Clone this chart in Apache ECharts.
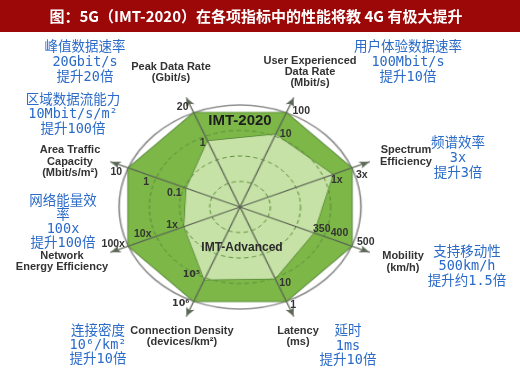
<!DOCTYPE html>
<html><head><meta charset="utf-8">
<script src="https://cdn.jsdelivr.net/npm/echarts@6/dist/echarts.min.js"></script>
<style>
html,body{margin:0;padding:0;background:#fff;overflow:hidden}
#wrap{position:relative;width:520px;height:379px}
#r,#c{position:absolute;left:0;top:0;width:520px;height:379px}
#r{transform-origin:240px 207px;transform:scale(1.12,0.945)}
</style>
</head><body><div id="wrap"><div id="r"></div><div id="c"></div></div>
<script>
// ---- data (indicators listed counter-clockwise, starting at upper right) ----
const indicators = ['User Experienced Data Rate', 'Peak Data Rate', 'Area Traffic Capacity', 'Network Energy Efficiency', 'Connection Density', 'Latency', 'Mobility', 'Spectrum Efficiency'];
const imt2020 = [100, 100, 100, 100, 100, 100, 100, 100];        // relative radius (%)
const imtAdvanced = [77, 70, 48, 50, 77, 76, 66, 83];            // relative radius (%)
const outerTicks = ['100', '20', '10', '100x', '10⁶', '1', '500', '3x'];
const innerTicks = ['10', '1', '0.1', '1x', '10⁵', '10', '350', '1x'];
const midTickValues = [null, null, 84, 87, null, null, 89, null];
const midTicks = ['', '', '1', '10x', '', '', '400', ''];
const titleText = '图：5G（IMT-2020）在各项指标中的性能将教 4G 有极大提升';
const axisNames = [
  'User Experienced\nData Rate\n(Mbit/s)', 'Peak Data Rate\n(Gbit/s)', 'Area Traffic\nCapacity\n(Mbit/s/m²)',
  'Network\nEnergy Efficiency', 'Connection Density\n(devices/km²)', 'Latency\n(ms)', 'Mobility\n(km/h)', 'Spectrum\nEfficiency'
];
const notes = [
  '用户体验数据速率\n100Mbit/s\n提升10倍', '峰值数据速率\n20Gbit/s\n提升20倍', '区域数据流能力\n10Mbit/s/m²\n提升100倍',
  '网络能量效\n率\n100x\n提升100倍', '连接密度\n10⁶/km²\n提升10倍', '延时\n1ms\n提升10倍', '支持移动性\n500km/h\n提升约1.5倍', '频谱效率\n3x\n提升3倍'
];

// ---- layout ----
const C = [240, 207];
const SX = 1.12, SY = 0.945;   // must match the CSS scale of #r
const outerOff = [[15, -2], [-11, -6], [-12, 4], [-15, -2], [-13, 2], [7, 4], [14, -4], [10, 7]];
const innerOff = [[10, 0], [-5, 2], [-12, 5], [-12, -1], [-13, -5], [10, 4], [8, -4], [4, 6]];
const midOff = [[0, 0], [0, 0], [0, 8], [0, -7], [0, 0], [0, 0], [0, -9], [0, 0]];
const namePos = [[310, 72, 11], [171, 72, 11], [70, 161.5, 11.5], [62, 261.5, 11], [182, 336.5, 11], [298, 336.5, 11], [403, 262, 12], [406, 156, 12]];
const notePos = [[408, 62, 15], [85, 62, 15], [73, 114.5, 14.5], [63, 222.5, 13.7], [98, 345, 14], [348, 346, 14.5], [467, 266.5, 14.5], [458, 158, 15]];

const ind = indicators.map(n => ({ name: n, max: 100 }));
const radarChart = echarts.init(document.getElementById('r'));
radarChart.setOption({
  animation: false,
  radar: [
    { center: C, radius: 125, startAngle: 67.5, splitNumber: 4, shape: 'circle', indicator: ind,
      axisName: { show: false },
      axisLine: { show: true, symbol: ['none', 'arrow'], symbolSize: [6, 9], lineStyle: { color: '#5c6656', width: 1.2 } },
      splitLine: { show: false }, splitArea: { show: false }, z: 5 },
    { center: C, radius: 108, startAngle: 67.5, splitNumber: 4, shape: 'circle', indicator: ind,
      axisName: { show: false }, axisLine: { show: false },
      splitLine: { show: true, lineStyle: { color: ['#5b8f3a', '#5b8f3a', '#5b8f3a', '#5b8f3a', 'rgba(0,0,0,0)'], type: [4, 3], width: 1 } },
      splitArea: { show: false }, z: 4 },
    { center: C, radius: 108, startAngle: 67.5, splitNumber: 1, shape: 'circle', indicator: ind,
      axisName: { show: false }, axisLine: { show: false },
      splitLine: { show: true, lineStyle: { color: '#8c8c8c', width: 1.5 } },
      splitArea: { show: false }, z: 1 }
  ],
  series: [
    { type: 'radar', radarIndex: 1, z: 2, symbol: 'none',
      data: [{ value: imt2020, name: 'IMT-2020', areaStyle: { color: '#7cb748', opacity: 1 }, lineStyle: { color: '#47782a', width: 1.5 } }] },
    { type: 'radar', radarIndex: 1, z: 3, symbol: 'none',
      data: [{ value: imtAdvanced, name: 'IMT-Advanced', areaStyle: { color: '#c7e2a6', opacity: 1 }, lineStyle: { color: '#4f7f33', width: 1.2 } }] }
  ]
});

const rc = radarChart.getModel().getComponent('radar', 1).coordinateSystem;
function toPage(p) { return [C[0] + (p[0] - C[0]) * SX, C[1] + (p[1] - C[1]) * SY]; }

const chart = echarts.init(document.getElementById('c'));
function tickStyle(t) {
  const sup = /[⁰-⁹]/.test(t);
  return { text: t, fill: '#333', fontSize: sup ? 9.5 : 10.5, fontWeight: 'bold',
    fontFamily: sup ? 'DejaVu Sans, sans-serif' : 'Liberation Sans, Arial, sans-serif', align: 'center', verticalAlign: 'middle' };
}
const g = [
  { type: 'rect', shape: { x: 0, y: 0, width: 520, height: 32 }, style: { fill: '#9c0808' }, z: 1 },
  { type: 'text', x: 256, y: 16, z: 10, style: { text: titleText, fill: '#ffffff', fontSize: 15, fontWeight: 'bold', fontFamily: 'Noto Sans CJK SC, sans-serif', align: 'center', verticalAlign: 'middle' } },
  { type: 'text', x: 240, y: 121, z: 10, style: { text: 'IMT-2020', fill: '#1e1e1e', fontSize: 15, fontWeight: 'bold', fontFamily: 'Liberation Sans, Arial, sans-serif', align: 'center', verticalAlign: 'middle' } },
  { type: 'text', x: 242, y: 248, z: 10, style: { text: 'IMT-Advanced', fill: '#2a2a2a', fontSize: 12, fontWeight: 'bold', fontFamily: 'Liberation Sans, Arial, sans-serif', align: 'center', verticalAlign: 'middle' } }
];
indicators.forEach((n, i) => {
  let p = toPage(rc.dataToPoint(imt2020[i], i));
  g.push({ type: 'text', x: p[0] + outerOff[i][0], y: p[1] + outerOff[i][1], z: 10, style: tickStyle(outerTicks[i]) });
  p = toPage(rc.dataToPoint(imtAdvanced[i], i));
  g.push({ type: 'text', x: p[0] + innerOff[i][0], y: p[1] + innerOff[i][1], z: 10, style: tickStyle(innerTicks[i]) });
  if (midTickValues[i] != null) {
    p = toPage(rc.dataToPoint(midTickValues[i], i));
    g.push({ type: 'text', x: p[0] + midOff[i][0], y: p[1] + midOff[i][1], z: 10, style: tickStyle(midTicks[i]) });
  }
  g.push({ type: 'text', x: namePos[i][0], y: namePos[i][1], z: 10, style: { text: axisNames[i], fill: '#333', fontSize: 11, fontWeight: 'bold', lineHeight: namePos[i][2], fontFamily: 'Liberation Sans, Arial, sans-serif', align: 'center', verticalAlign: 'middle' } });
  g.push({ type: 'text', x: notePos[i][0], y: notePos[i][1], z: 10, style: { text: notes[i], fill: '#2a6ac8', fontSize: 13.5, lineHeight: notePos[i][2], fontFamily: 'DejaVu Sans Mono, Noto Sans CJK SC, monospace', align: 'center', verticalAlign: 'middle' } });
});
chart.setOption({ animation: false, backgroundColor: 'transparent', graphic: g });
</script></body></html>
